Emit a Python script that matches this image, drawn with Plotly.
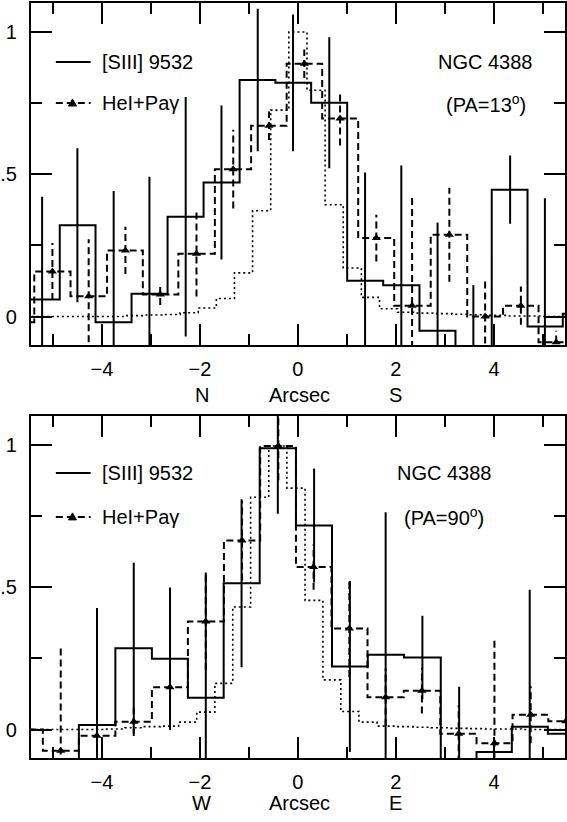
import numpy as np
import plotly.graph_objects as go

# ---------------- NGC 4388, PA = 13 deg (N - S) ----------------
pa13_s3_x = [-5.22, -4.50, -3.76, -3.03, -2.29, -1.56, -0.82, -0.10, 0.64, 1.37,
             2.11, 2.85, 3.58, 4.33, 5.04, 5.77]
pa13_s3_y = [0.06, 0.32, -0.02, 0.08, 0.35, 0.47, 0.83, 0.82, 0.75, 0.125,
             0.11, -0.05, -0.22, 0.445, -0.035, 0.01]
pa13_s3_err = [0.36, 0.27, 0.46, 0.41, 0.42, 0.27, 0.25, 0.24, 0.23, 0.38,
               0.42, 0.38, 0.33, 0.12, 0.45, 0.0]

pa13_he_x = [-5.75, -5.01, -4.27, -3.52, -2.81, -2.07, -1.32, -0.59, 0.13, 0.86,
             1.60, 2.33, 3.09, 3.82, 4.55, 5.27]
pa13_he_y = [-0.02, 0.158, 0.071, 0.232, 0.077, 0.22, 0.517, 0.669, 0.887, 0.695,
             0.275, 0.038, 0.287, 0.0, 0.038, -0.09]
pa13_he_err = [0.0, 0.10, 0.20, 0.083, 0.037, 0.15, 0.138, 0.05, 0.05, 0.095,
               0.082, 0.38, 0.165, 0.133, 0.067, 0.04]

pa13_cont_x = [-5.55, -5.18, -4.81, -4.44, -4.07, -3.70, -3.33, -2.96, -2.59, -2.22,
               -1.85, -1.48, -1.11, -0.74, -0.37, 0.0, 0.37, 0.74, 1.11, 1.48,
               1.85, 2.22, 2.59, 2.96, 3.33, 3.70, 4.07, 4.44, 4.81, 5.18, 5.55]
pa13_cont_y = [0.0, 0.0, 0.0, 0.0, 0.0, 0.0, 0.003, 0.005, 0.007, 0.013,
               0.03, 0.063, 0.153, 0.371, 0.724, 0.998, 0.794, 0.392, 0.17, 0.067,
               0.027, 0.015, 0.012, 0.01, 0.008, 0.006, 0.004, 0.002, 0.002, 0.0, 0.0]

# ---------------- NGC 4388, PA = 90 deg (W - E) ----------------
pa90_s3_x = [-4.84, -4.10, -3.35, -2.61, -1.88, -1.15, -0.41, 0.33, 1.06, 1.79,
             2.54, 3.29, 4.00, 4.73, 5.47]
pa90_s3_y = [-0.15, 0.016, 0.285, 0.248, 0.111, 0.513, 0.987, 0.716, 0.221, 0.262,
             0.253, -0.2, -0.079, 0.01, -0.015]
pa90_s3_err = [0.0, 0.41, 0.30, 0.25, 0.44, 0.295, 0.23, 0.20, 0.30, 0.50,
               0.146, 0.35, 0.05, 0.48, 0.0]

pa90_he_x = [-5.57, -4.84, -4.10, -3.35, -2.61, -1.88, -1.14, -0.40, 0.32, 1.05,
             1.79, 2.53, 3.28, 4.01, 4.75, 5.47]
pa90_he_y = [0.0, -0.075, -0.022, 0.027, 0.148, 0.379, 0.663, 0.995, 0.57, 0.354,
             0.113, 0.136, -0.015, -0.048, 0.052, 0.029]
pa90_he_err = [0.0, 0.36, 0.05, 0.05, 0.10, 0.17, 0.14, 0.12, 0.08, 0.17,
               0.10, 0.08, 0.10, 0.36, 0.10, 0.0]

pa90_cont_x = [-5.56, -5.19, -4.83, -4.46, -4.09, -3.72, -3.35, -2.99, -2.62, -2.25,
               -1.88, -1.51, -1.15, -0.78, -0.41, -0.04, 0.33, 0.69, 1.06, 1.43,
               1.80, 2.17, 2.53, 2.90, 3.27, 3.64, 4.01, 4.38, 4.74, 5.11, 5.48]
pa90_cont_y = [0.0, 0.0, 0.0, 0.0, 0.0, 0.002, 0.006, 0.01, 0.012, 0.026,
               0.061, 0.162, 0.43, 0.815, 0.995, 0.847, 0.453, 0.174, 0.063, 0.026,
               0.012, 0.01, 0.008, 0.006, 0.004, 0.003, 0.002, 0.002, 0.0, 0.0, 0.0]

x_major = [-4, -2, 0, 2, 4]
x_minor = [-5, -3, -1, 1, 3, 5]
y_major = [0, 0.5, 1]
y_major_text = ["0", ".5", "1"]
y_minor = [0.25, 0.75]

FONT = "Liberation Sans, Arial, sans-serif"
INK = "black"


def steps(centers, values):
    """Bin edges (midpoints between centres) for an 'hv' histogram outline."""
    c = np.asarray(centers, float)
    v = np.asarray(values, float)
    mids = (c[:-1] + c[1:]) / 2
    edges = np.concatenate([[c[0] - (mids[0] - c[0])], mids,
                            [c[-1] + (c[-1] - mids[-1])]])
    return edges, np.append(v, v[-1])


def bars(centers, values, errors):
    xs, ys = [], []
    for c, v, e in zip(centers, values, errors):
        if e > 0:
            xs += [c, c, None]
            ys += [v - e, v + e, None]
    return xs, ys


fig = go.Figure()


def add_panel(xa, ya, s3, he, cont):
    # continuum / PSF profile (dotted)
    ex, ey = steps(*cont)
    fig.add_trace(go.Scatter(x=ex, y=ey, mode="lines", line_shape="hv",
                             line=dict(color=INK, width=1.6, dash="2px,3px"),
                             xaxis=xa, yaxis=ya, showlegend=False))
    # [SIII] 9532 (solid)
    ex, ey = steps(s3[0], s3[1])
    fig.add_trace(go.Scatter(x=ex, y=ey, mode="lines", line_shape="hv",
                             line=dict(color=INK, width=2),
                             xaxis=xa, yaxis=ya, showlegend=False))
    bx, by = bars(*s3)
    fig.add_trace(go.Scatter(x=bx, y=by, mode="lines",
                             line=dict(color=INK, width=2),
                             xaxis=xa, yaxis=ya, showlegend=False))
    # HeI + Pa gamma (dashed, triangles)
    ex, ey = steps(he[0], he[1])
    fig.add_trace(go.Scatter(x=ex, y=ey, mode="lines", line_shape="hv",
                             line=dict(color=INK, width=2, dash="7px,4px"),
                             xaxis=xa, yaxis=ya, showlegend=False))
    bx, by = bars(*he)
    fig.add_trace(go.Scatter(x=bx, y=by, mode="lines",
                             line=dict(color=INK, width=2, dash="7px,4px"),
                             xaxis=xa, yaxis=ya, showlegend=False))
    fig.add_trace(go.Scatter(x=he[0], y=he[1], mode="markers",
                             marker=dict(symbol="triangle-up", size=8, color=INK),
                             xaxis=xa, yaxis=ya, showlegend=False))


add_panel("x", "y", (pa13_s3_x, pa13_s3_y, pa13_s3_err),
          (pa13_he_x, pa13_he_y, pa13_he_err), (pa13_cont_x, pa13_cont_y))
add_panel("x2", "y2", (pa90_s3_x, pa90_s3_y, pa90_s3_err),
          (pa90_he_x, pa90_he_y, pa90_he_err), (pa90_cont_x, pa90_cont_y))

W, H = 567, 822
tickfont = dict(family=FONT, size=20, color=INK)

xcommon = dict(range=[-5.45, 5.45], domain=[30 / W, 1.0], showline=True,
               linewidth=2, linecolor=INK, mirror="allticks", ticks="inside",
               ticklen=21, tickwidth=2, tickcolor=INK, tickvals=x_major,
               showgrid=False, zeroline=False, tickfont=tickfont,
               ticklabelstandoff=5,
               minor=dict(tickvals=x_minor, ticks="inside", ticklen=11,
                          tickwidth=2, tickcolor=INK, showgrid=False))
ycommon = dict(range=[-0.1, 1.1], showline=True, linewidth=2, linecolor=INK,
               mirror="allticks", ticks="inside", ticklen=21, tickwidth=2,
               tickcolor=INK, tickvals=y_major, ticktext=y_major_text,
               showgrid=False, zeroline=False, tickfont=tickfont,
               ticklabelstandoff=8,
               minor=dict(tickvals=y_minor, ticks="inside", ticklen=11,
                          tickwidth=2, tickcolor=INK, showgrid=False))

fig.update_layout(
    width=W, height=H, margin=dict(l=0, r=0, t=0, b=0),
    paper_bgcolor="white", plot_bgcolor="white", showlegend=False,
    xaxis=dict(xcommon, anchor="y"),
    yaxis=dict(ycommon, anchor="x", domain=[1 - 345 / H, 1 - 3 / H]),
    xaxis2=dict(xcommon, anchor="y2"),
    yaxis2=dict(ycommon, anchor="x2", domain=[1 - 758 / H, 1 - 416 / H]),
)

txt = dict(family=FONT, size=20, color=INK)


def label(text, x, y, xref, yref, xanchor="center"):
    fig.add_annotation(text=text, x=x, y=y, xref=xref, yref=yref,
                       showarrow=False, font=txt, xanchor=xanchor,
                       yanchor="middle")


# legends, object names and axis captions
panels = [
    ("x", "y", 0.893, 0.749, 3.83, "(PA=13<sup>o</sup>)", 1 - 395 / H, "N", "S"),
    ("x2", "y2", 0.90, 0.746, 2.99, "(PA=90<sup>o</sup>)", 1 - 803 / H, "W", "E"),
]
for xa, ya, y1, y2, xn, pa, ycap, left_dir, right_dir in panels:
    fig.add_shape(type="line", x0=-4.94, x1=-4.23, y0=y1, y1=y1, xref=xa, yref=ya,
                  line=dict(color=INK, width=2))
    fig.add_shape(type="line", x0=-4.94, x1=-4.23, y0=y2, y1=y2, xref=xa, yref=ya,
                  line=dict(color=INK, width=2, dash="7px,4px"))
    # legend triangle symbol
    fig.add_shape(type="path", xref=xa, yref=ya, xsizemode="pixel",
                  ysizemode="pixel", xanchor=-4.6, yanchor=y2,
                  path="M -4,-3 L 4,-3 L 0,4 Z", fillcolor=INK,
                  line=dict(color=INK, width=1))
    label("[SIII] 9532", -4.03, y1, xa, ya, xanchor="left")
    label("HeI+Paγ", -4.03, y2, xa, ya, xanchor="left")
    label("NGC 4388", xn, y1, xa, ya)
    label(pa, xn, y2, xa, ya)
    label(left_dir, -1.96, ycap, xa, "paper")
    label("Arcsec", 0.03, ycap, xa, "paper")
    label(right_dir, 2.0, ycap, xa, "paper")

fig.write_html("out.html")
